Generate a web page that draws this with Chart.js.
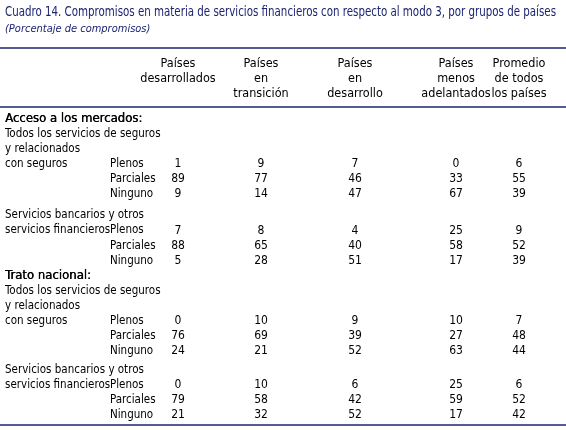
<!DOCTYPE html><html><head><meta charset="utf-8">
<script src="https://cdn.jsdelivr.net/npm/chart.js@4"></script>
<style>html,body{margin:0;padding:0;background:#fff}#w{width:566px;height:430px}</style></head><body><div id="w"><canvas id="c"></canvas></div>
<script>
const title="Cuadro 14. Compromisos en materia de servicios financieros con respecto al modo 3, por grupos de países";
const subtitle="(Porcentaje de compromisos)";
const headers=[["Países","desarrollados"],["Países","en","transición"],["Países","en","desarrollo"],["Países","menos","adelantados"],["Promedio","de todos","los países"]];
const rowKinds=["Plenos","Parciales","Ninguno"];
const maInsurance=[[1,9,7,0,6],[89,77,46,33,55],[9,14,47,67,39]];
const maBanking=[[7,8,4,25,9],[88,65,40,58,52],[5,28,51,17,39]];
const ntInsurance=[[0,10,9,10,7],[76,69,39,27,48],[24,21,52,63,44]];
const ntBanking=[[0,10,6,25,6],[79,58,42,59,52],[21,32,52,17,42]];
const sections=[["Acceso a los mercados:",[["Todos los servicios de seguros","y relacionados","con seguros"],maInsurance],[["Servicios bancarios y otros","servicios financieros"],maBanking]],
["Trato nacional:",[["Todos los servicios de seguros","y relacionados","con seguros"],ntInsurance],[["Servicios bancarios y otros","servicios financieros"],ntBanking]]];
const rows=[];let idx=0;
sections.forEach((s,si)=>{rows.push({t:'h',text:s[0],i:idx++});[s[1],s[2]].forEach((g,gi)=>{const lab=g[0],vals=g[1];
 const pre=lab.length-1;for(let i=0;i<pre;i++)rows.push({t:'l',text:lab[i],i:idx++});
 rowKinds.forEach((k,ki)=>rows.push({t:'v',text:ki==0?lab[pre]:'',kind:k,vals:vals[ki],i:idx++}));
 if(gi==0)idx+=(si==0?0.4:0.25);});});
const colX=[178,261,355,456,519];
const NAVY='#1c2470';
const F="'Liberation Sans Narrow','DejaVu Sans Condensed',sans-serif";
const tablePlugin={id:'tbl',afterDraw(ch){const c=ch.ctx,y=ch.scales.y;c.save();
 c.fillStyle=NAVY;c.font="14px "+F;c.textBaseline='middle';c.textAlign='left';
 let tw=c.measureText(title).width;c.save();c.translate(5,12);c.scale(551/tw,1);c.fillText(title,0,0);c.restore();
 c.font="italic 11px "+F;c.fillText(subtitle,5,29);
 c.strokeStyle=NAVY;c.lineWidth=1.5;[48,107,425].forEach(yy=>{c.beginPath();c.moveTo(0,yy);c.lineTo(566,yy);c.stroke();});
 c.fillStyle='#000';c.font="12.5px "+F;c.textAlign='center';
 headers.forEach((h,i)=>{h.forEach((t,j)=>c.fillText(t,colX[i],64+j*15));});
 rows.forEach(r=>{const py=y.getPixelForValue(r.i);c.textAlign='left';
  if(r.t=='h'){c.font="13px "+F;c.fillText(r.text,5,py);c.fillText(r.text,5.4,py);}
  else if(r.t=='l'){c.font="11.5px "+F;c.fillText(r.text,5,py);}
  else {c.font="11.5px "+F;if(r.text)c.fillText(r.text,5,py);c.fillText(r.kind,110,py);
   c.font="12px "+F;c.textAlign='center';r.vals.forEach((v,k)=>c.fillText(String(v),colX[k],py));}
 });c.restore();}};
new Chart(document.getElementById('c'),{type:'scatter',data:{datasets:[{data:[],pointRadius:0}]},
 options:{responsive:true,maintainAspectRatio:false,animation:false,events:[],
 layout:{padding:{top:119,bottom:15,left:0,right:0}},
 plugins:{legend:{display:false},tooltip:{enabled:false}},
 scales:{x:{display:false,min:0,max:1},y:{display:false,type:'linear',reverse:true,min:0,max:rows[rows.length-1].i}}},
 plugins:[tablePlugin]});
</script></body></html>
